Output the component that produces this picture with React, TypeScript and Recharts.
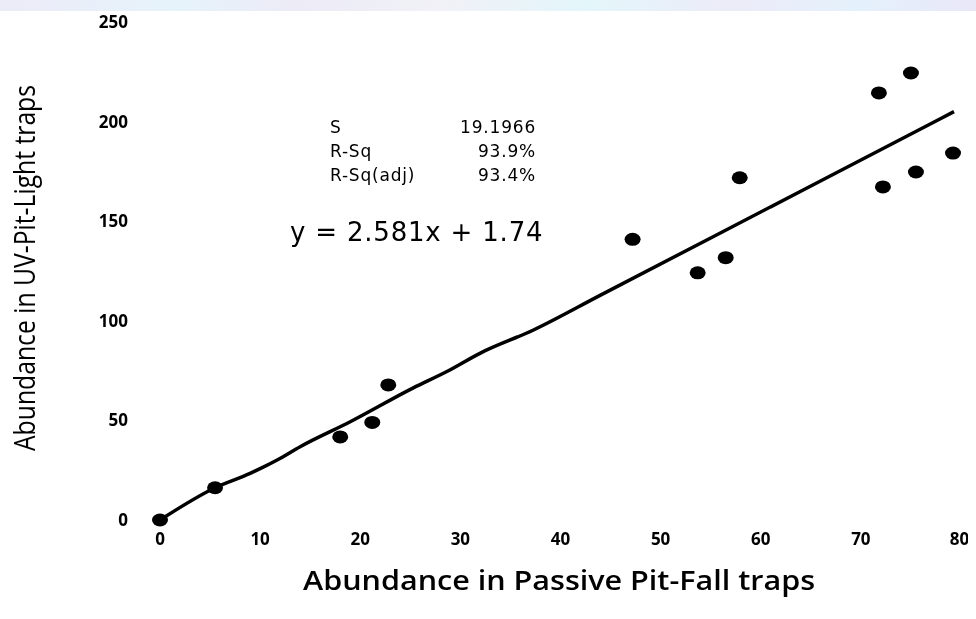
import React from "react";
import { ComposedChart, XAxis, YAxis, Line, Scatter } from "recharts";

const xTicks = [0, 10, 20, 30, 40, 50, 60, 70, 80];
const yTicks = [0, 50, 100, 150, 200, 250];

const obsX = [0, 5.5, 18.0, 21.2, 22.8, 47.2, 53.7, 56.5, 57.9, 71.8, 75.0, 79.2, 75.5, 72.2];
const obsY = [0, 16.2, 41.7, 49.0, 67.8, 140.9, 124.1, 131.7, 171.8, 214.4, 224.4, 184.2, 174.7, 167.2];

const fitX = [0, 5.5, 9.0, 11.7, 14.0, 19.0, 25.3, 28.6, 32.0, 37.3, 44.0, 63.9, 79.3];
const fitY = [0, 16.2, 23.4, 30.1, 36.8, 49.3, 66.3, 74.4, 83.8, 95.4, 112.9, 164.8, 205.0];

const stats = [
  { name: "S", value: "19.1966" },
  { name: "R-Sq", value: "93.9%" },
  { name: "R-Sq(adj)", value: "93.4%" },
];
const equation = "y = 2.581x + 1.74";
const xTitle = "Abundance in Passive Pit-Fall traps";
const yTitle = "Abundance in UV-Pit-Light traps";

const points = obsX.map((x, i) => ({ x, y: obsY[i] }));
const fit = fitX.map((x, i) => ({ x, y: fitY[i] }));

const Dot = (props: any) => {
  const { cx, cy } = props;
  return <ellipse cx={cx} cy={cy} rx={8} ry={6.5} fill="#000" />;
};

const tickFont = { fontFamily: "'Open Sans', sans-serif", fontWeight: 700, fontSize: 17, fill: "#000" };

export default function App() {
  return (
    <div style={{ position: "relative", width: 960, height: 603 }}>
      <div
        style={{
          position: "fixed",
          top: 0,
          left: 0,
          width: 976,
          height: 11,
          background:
            "linear-gradient(90deg, #ecebf8 0%, #e6f3fb 18%, #ecebf6 30%, #f1f1f7 45%, #e3f6fa 60%, #ecebf8 75%, #e4f1fb 88%, #e9e7f7 100%)",
        }}
      />
      <ComposedChart
        width={960}
        height={603}
        margin={{ top: 14, right: 7, bottom: 31, left: 0 }}
        style={{ overflow: "visible" }}
      >
        <XAxis
          type="number"
          dataKey="x"
          domain={[0, 80]}
          ticks={xTicks}
          axisLine={false}
          tickLine={false}
          tickSize={0}
          tickMargin={13}
          height={60}
          tick={tickFont}
        />
        <YAxis
          type="number"
          dataKey="y"
          domain={[0, 250]}
          ticks={yTicks}
          axisLine={false}
          tickLine={false}
          tickSize={0}
          tickMargin={32}
          width={152}
          tick={tickFont}
        />
        <Line
          data={fit}
          dataKey="y"
          type="monotone"
          stroke="#000"
          strokeWidth={3.5}
          dot={false}
          activeDot={false}
          isAnimationActive={false}
        />
        <Scatter data={points} dataKey="y" shape={<Dot />} isAnimationActive={false} />
      </ComposedChart>
      <svg
        width={960}
        height={603}
        style={{ position: "absolute", left: 0, top: 0, pointerEvents: "none", overflow: "visible" }}
      >
        <text
          x={15}
          y={260}
          transform="rotate(-90 15 260)"
          textAnchor="middle"
          dominantBaseline="central"
          textLength={366}
          lengthAdjust="spacingAndGlyphs"
          style={{ fontFamily: "'Open Sans', sans-serif", fontSize: 30, fill: "#000" }}
        >
          {yTitle}
        </text>
        <text
          x={551}
          y={571}
          textAnchor="middle"
          dominantBaseline="central"
          textLength={512}
          lengthAdjust="spacingAndGlyphs"
          style={{ fontFamily: "'Open Sans', sans-serif", fontWeight: 600, fontSize: 27, fill: "#000" }}
        >
          {xTitle}
        </text>
        {stats.map((s, i) => (
          <g
            key={s.name}
            style={{ fontFamily: "'DejaVu Sans', sans-serif", fontSize: 17, fill: "#000", letterSpacing: 0.8 }}
          >
            <text x={322} y={119 + i * 24} dominantBaseline="central">
              {s.name}
            </text>
            <text x={528} y={119 + i * 24} textAnchor="end" dominantBaseline="central">
              {s.value}
            </text>
          </g>
        ))}
        <text
          x={282}
          y={224}
          dominantBaseline="central"
          style={{ fontFamily: "'DejaVu Sans', sans-serif", fontSize: 26, fill: "#000", letterSpacing: 0.8 }}
        >
          {equation}
        </text>
      </svg>
    </div>
  );
}
